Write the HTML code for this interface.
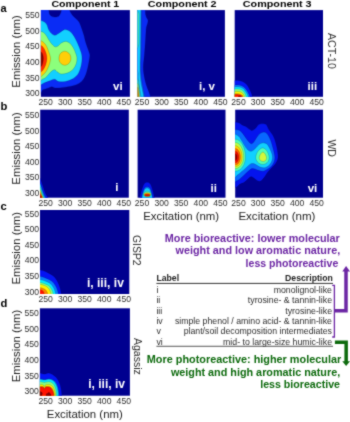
<!DOCTYPE html>
<html><head><meta charset="utf-8"><title>EEM components</title>
<style>html,body{margin:0;padding:0;background:#fff;}body{width:350px;height:422px;overflow:hidden;font-family:"Liberation Sans",sans-serif;}svg{display:block;}</style></head>
<body>
<svg width="350" height="422" viewBox="0 0 350 422" font-family="'Liberation Sans', sans-serif">
<defs><filter id="soft" x="0" y="0" width="350" height="422" filterUnits="userSpaceOnUse" color-interpolation-filters="sRGB"><feConvolveMatrix order="3" kernelMatrix="0.03 0.09 0.03 0.09 0.52 0.09 0.03 0.09 0.03" divisor="1" edgeMode="duplicate" preserveAlpha="true"/></filter></defs>
<g filter="url(#soft)">
<rect width="350" height="422" fill="#fff"/>
<clipPath id="p0"><rect x="40.9" y="10.1" width="89" height="86.7"/></clipPath>
<rect x="40.9" y="10.1" width="89" height="86.7" fill="#00008F"/>
<g clip-path="url(#p0)">
<path d="M37.5 5 C39.3 -9.2 46.4 4.12 48.3 5 C50.2 5.88 48.65 8.7 48.9 10.3 C49.15 11.9 49.2 13.55 49.8 14.6 C50.4 15.65 51.55 16.2 52.5 16.6 C53.45 17 54.48 17.07 55.5 17 C56.52 16.93 57.75 16.87 58.6 16.2 C59.45 15.53 60.15 13.98 60.6 13 C61.05 12.02 61.07 11.63 61.3 10.3 C61.53 8.97 60.88 5.88 62 5 C63.12 4.12 66.72 4.12 68 5 C69.28 5.88 68.98 8.65 69.7 10.3 C70.42 11.95 70.87 13.13 72.3 14.9 C73.73 16.67 76.93 19.2 78.3 20.9 C79.67 22.6 79.57 22.75 80.5 25.1 C81.43 27.45 83.02 32.1 83.9 35 C84.78 37.9 85.05 40 85.8 42.5 C86.55 45 87.72 47.92 88.4 50 C89.08 52.08 89.75 53.33 89.9 55 C90.05 56.67 89.53 58.42 89.3 60 C89.07 61.58 88.82 62.92 88.5 64.5 C88.18 66.08 87.83 67.83 87.4 69.5 C86.97 71.17 86.57 72.85 85.9 74.5 C85.23 76.15 84.53 77.92 83.4 79.4 C82.27 80.88 80.95 82.3 79.1 83.4 C77.25 84.5 74.87 85.33 72.3 86 C69.73 86.67 66.33 87.05 63.7 87.4 C61.07 87.75 58.2 88.1 56.5 88.1 C54.8 88.1 54.38 87.6 53.5 87.4 C52.62 87.2 52.28 86.72 51.2 86.9 C50.12 87.08 48.37 88.03 47 88.5 C45.63 88.97 44.58 89.42 43 89.7 C41.42 89.98 38.42 104.32 37.5 90.2 C36.58 76.08 35.7 19.2 37.5 5 Z" fill="#0A2CF5" stroke="#000" stroke-opacity="0.4" stroke-width="0.4"/>
<path d="M37.5 20.3 C38.1 9.57 39.87 20.27 41.1 20.6 C42.33 20.93 43.9 21.55 44.9 22.3 C45.9 23.05 46.52 23.97 47.1 25.1 C47.68 26.23 47.82 27.85 48.4 29.1 C48.98 30.35 49.57 31.57 50.6 32.6 C51.63 33.63 53.3 35.13 54.6 35.3 C55.9 35.47 56.88 34.5 58.4 33.6 C59.92 32.7 62.1 30.45 63.7 29.9 C65.3 29.35 66.57 29.67 68 30.3 C69.43 30.93 70.93 32.05 72.3 33.7 C73.67 35.35 75.05 37.98 76.2 40.2 C77.35 42.42 78.4 45.03 79.2 47 C80 48.97 80.55 50.5 81 52 C81.45 53.5 81.77 54.33 81.9 56 C82.03 57.67 82.05 59.92 81.8 62 C81.55 64.08 81.07 66.43 80.4 68.5 C79.73 70.57 79.15 72.63 77.8 74.4 C76.45 76.17 74.37 77.92 72.3 79.1 C70.23 80.28 67.68 81.1 65.4 81.5 C63.12 81.9 60.42 81.87 58.6 81.5 C56.78 81.13 55.93 79.42 54.5 79.3 C53.07 79.18 51.9 80.12 50 80.8 C48.1 81.48 44.58 82.75 43.1 83.4 C41.62 84.05 42.03 84.43 41.1 84.7 C40.17 84.97 38.1 95.73 37.5 85 C36.9 74.27 36.9 31.03 37.5 20.3 Z" fill="#12CFFF" stroke="#000" stroke-opacity="0.4" stroke-width="0.4"/>
<path d="M37.5 31.2 C38.1 23.17 40.07 31.17 41.1 31.4 C42.13 31.63 42.78 31.83 43.7 32.6 C44.62 33.37 45.73 34.77 46.6 36 C47.47 37.23 48 38.63 48.9 40 C49.8 41.37 50.95 43.07 52 44.2 C53.05 45.33 54.15 46.53 55.2 46.8 C56.25 47.07 57.32 46.42 58.3 45.8 C59.28 45.18 59.92 43.83 61.1 43.1 C62.28 42.37 63.97 41.4 65.4 41.4 C66.83 41.4 68.38 42.03 69.7 43.1 C71.02 44.17 72.32 46.15 73.3 47.8 C74.28 49.45 75 51.38 75.6 53 C76.2 54.62 76.78 55.75 76.9 57.5 C77.02 59.25 76.98 61.47 76.3 63.5 C75.62 65.53 74.33 68.1 72.8 69.7 C71.27 71.3 69.05 72.38 67.1 73.1 C65.15 73.82 62.7 74.18 61.1 74 C59.5 73.82 58.58 72.72 57.5 72 C56.42 71.28 55.6 69.82 54.6 69.7 C53.6 69.58 52.52 70.48 51.5 71.3 C50.48 72.12 49.47 73.55 48.5 74.6 C47.53 75.65 46.73 76.83 45.7 77.6 C44.67 78.37 43.67 78.87 42.3 79.2 C40.93 79.53 38.3 87.6 37.5 79.6 C36.7 71.6 36.9 39.23 37.5 31.2 Z" fill="#8CFF7C" stroke="#000" stroke-opacity="0.4" stroke-width="0.4"/>
<path d="M37.5 40.5 C38.1 34.63 40.05 40.45 41.1 40.8 C42.15 41.15 42.88 41.68 43.8 42.6 C44.72 43.52 45.77 44.73 46.6 46.3 C47.43 47.87 48.17 50.22 48.8 52 C49.43 53.78 50.15 55.5 50.4 57 C50.65 58.5 50.6 59.42 50.3 61 C50 62.58 49.32 64.73 48.6 66.5 C47.88 68.27 46.93 70.22 46 71.6 C45.07 72.98 44.42 74.07 43 74.8 C41.58 75.53 38.42 81.72 37.5 76 C36.58 70.28 36.9 46.37 37.5 40.5 Z" fill="#FFCE08" stroke="#000" stroke-opacity="0.4" stroke-width="0.4"/>
<path d="M64.8 51.2 C65.7 51.23 66.73 51.63 67.6 52.2 C68.47 52.77 69.45 53.58 70 54.6 C70.55 55.62 70.9 57.07 70.9 58.3 C70.9 59.53 70.58 60.95 70 62 C69.42 63.05 68.37 64.07 67.4 64.6 C66.43 65.13 65.23 65.33 64.2 65.2 C63.17 65.07 62.02 64.5 61.2 63.8 C60.38 63.1 59.67 62.03 59.3 61 C58.93 59.97 58.88 58.77 59 57.6 C59.12 56.43 59.47 54.93 60 54 C60.53 53.07 61.4 52.47 62.2 52 C63 51.53 63.9 51.17 64.8 51.2 Z" fill="#FFCE08" stroke="#000" stroke-opacity="0.4" stroke-width="0.4"/>
<path d="M37.5 45.2 C38.1 40.75 40.05 45 41.1 45.5 C42.15 46 42.98 46.95 43.8 48.2 C44.62 49.45 45.48 51.28 46 53 C46.52 54.72 46.93 56.58 46.9 58.5 C46.87 60.42 46.37 62.7 45.8 64.5 C45.23 66.3 44.28 68.08 43.5 69.3 C42.72 70.52 42.1 71.32 41.1 71.8 C40.1 72.28 38.1 76.63 37.5 72.2 C36.9 67.77 36.9 49.65 37.5 45.2 Z" fill="#FF2B00" stroke="#000" stroke-opacity="0.4" stroke-width="0.4"/>
<path d="M37.5 51.5 C38.1 48.98 40.23 51.4 41.1 51.9 C41.97 52.4 42.32 53.4 42.7 54.5 C43.08 55.6 43.4 57.08 43.4 58.5 C43.4 59.92 43.08 61.65 42.7 63 C42.32 64.35 41.97 65.93 41.1 66.6 C40.23 67.27 38.1 69.52 37.5 67 C36.9 64.48 36.9 54.02 37.5 51.5 Z" fill="#860000" stroke="#000" stroke-opacity="0.4" stroke-width="0.4"/>
</g>
<text x="122.6" y="89.6" text-anchor="end" font-size="11.5" font-weight="bold" fill="#fff">vi</text>
<clipPath id="p1"><rect x="137.6" y="10.1" width="87.3" height="86.7"/></clipPath>
<rect x="137.6" y="10.1" width="87.3" height="86.7" fill="#00008F"/>
<g clip-path="url(#p1)">
<path d="M134.4 5 C136.2 -10.83 143.37 4.12 145.2 5 C147.03 5.88 145.33 8.72 145.4 10.3 C145.47 11.88 145.4 13.3 145.6 14.5 C145.8 15.7 146.2 16.55 146.6 17.5 C147 18.45 147.83 19.2 148 20.2 C148.17 21.2 147.85 22.37 147.6 23.5 C147.35 24.63 146.77 25.58 146.5 27 C146.23 28.42 146.18 29.5 146 32 C145.82 34.5 145.67 38.17 145.4 42 C145.13 45.83 144.75 50.83 144.4 55 C144.05 59.17 143.33 63.5 143.3 67 C143.27 70.5 143.72 73.07 144.2 76 C144.68 78.93 145.47 82.1 146.2 84.6 C146.93 87.1 147.92 89.13 148.6 91 C149.28 92.87 149.9 94.3 150.3 95.8 C150.7 97.3 153.65 99.3 151 100 C148.35 100.7 137.17 115.83 134.4 100 C131.63 84.17 132.6 20.83 134.4 5 Z" fill="#0A2CF5" stroke="#000" stroke-opacity="0.4" stroke-width="0.4"/>
<path d="M134.4 5 C135.6 -10.83 140.4 3.83 141.6 5 C142.8 6.17 141.63 7.83 141.6 12 C141.57 16.17 141.47 23.67 141.4 30 C141.33 36.33 141.3 44 141.2 50 C141.1 56 140.8 61.67 140.8 66 C140.8 70.33 140.95 73 141.2 76 C141.45 79 141.9 81.5 142.3 84 C142.7 86.5 143.27 88.33 143.6 91 C143.93 93.67 145.83 98.5 144.3 100 C142.77 101.5 136.05 115.83 134.4 100 C132.75 84.17 133.2 20.83 134.4 5 Z" fill="#0868FF" stroke="#000" stroke-opacity="0.4" stroke-width="0.4"/>
<path d="M134.4 5 C135.45 -10.83 139.63 3.83 140.7 5 C141.77 6.17 140.8 7.83 140.8 12 C140.8 16.17 140.77 23.67 140.7 30 C140.63 36.33 140.52 44 140.4 50 C140.28 56 140.02 61.67 140 66 C139.98 70.33 140.1 73 140.3 76 C140.5 79 140.82 81.5 141.2 84 C141.58 86.5 142.25 88.33 142.6 91 C142.95 93.67 144.67 98.5 143.3 100 C141.93 101.5 135.88 115.83 134.4 100 C132.92 84.17 133.35 20.83 134.4 5 Z" fill="#12CFFF" stroke="#000" stroke-opacity="0.4" stroke-width="0.4"/>
<path d="M134.4 11 C135.1 5.08 137.83 11 138.6 12.5 C139.37 14 138.95 16.25 139 20 C139.05 23.75 139 30.67 138.9 35 C138.8 39.33 139.15 43.83 138.4 46 C137.65 48.17 135.07 53.83 134.4 48 C133.73 42.17 133.7 16.92 134.4 11 Z" fill="#46F0B8" stroke="#000" stroke-opacity="0.4" stroke-width="0.4"/>
<path d="M134.4 70 C135 65.33 137.35 70.67 138 72 C138.65 73.33 138.1 75.83 138.3 78 C138.5 80.17 138.85 82.67 139.2 85 C139.55 87.33 140.1 89.5 140.4 92 C140.7 94.5 142 98.67 141 100 C140 101.33 135.5 105 134.4 100 C133.3 95 133.8 74.67 134.4 70 Z" fill="#20B0FF" stroke="#000" stroke-opacity="0.4" stroke-width="0.4"/>
<path d="M134.4 79 C135 75.67 137.3 79 138 80 C138.7 81 138.35 83.17 138.6 85 C138.85 86.83 139.27 88.5 139.5 91 C139.73 93.5 140.85 98.5 140 100 C139.15 101.5 135.33 103.5 134.4 100 C133.47 96.5 133.8 82.33 134.4 79 Z" fill="#60F8A0" stroke="#000" stroke-opacity="0.4" stroke-width="0.4"/>
<path d="M134.4 83 C134.98 80.33 137.25 83.17 137.9 84 C138.55 84.83 138.13 86.5 138.3 88 C138.47 89.5 138.73 91 138.9 93 C139.07 95 140.05 98.83 139.3 100 C138.55 101.17 135.22 102.83 134.4 100 C133.58 97.17 133.82 85.67 134.4 83 Z" fill="#F0D820" stroke="#000" stroke-opacity="0.4" stroke-width="0.4"/>
<path d="M134.4 86.5 C134.97 84.42 137.18 86.75 137.8 87.5 C138.42 88.25 137.98 88.92 138.1 91 C138.22 93.08 139.12 98.5 138.5 100 C137.88 101.5 135.08 102.25 134.4 100 C133.72 97.75 133.83 88.58 134.4 86.5 Z" fill="#E85A10" stroke="#000" stroke-opacity="0.4" stroke-width="0.4"/>
</g>
<text x="215" y="89.8" text-anchor="end" font-size="11.5" font-weight="bold" fill="#fff">i, v</text>
<clipPath id="p2"><rect x="234.7" y="10.1" width="88.3" height="86.7"/></clipPath>
<rect x="234.7" y="10.1" width="88.3" height="86.7" fill="#00008F"/>
<g clip-path="url(#p2)">
<path d="M231.4 80.4 C231.9 80.4 233.13 80.38 234.4 80.4 C235.67 80.42 237.53 80.27 239 80.5 C240.47 80.73 241.92 81.13 243.2 81.8 C244.48 82.47 245.7 83.38 246.7 84.5 C247.7 85.62 248.42 87.03 249.2 88.5 C249.98 89.97 250.88 91.95 251.4 93.3 C251.92 94.65 252.14 95.55 252.3 96.6 C252.46 97.65 252.34 99.1 252.35 99.6 L231.4 99.6 Z" fill="#0414F4" stroke="#000" stroke-opacity="0.4" stroke-width="0.4"/>
<path d="M231.4 85 C231.9 85 233.13 84.98 234.4 85 C235.67 85.02 237.63 84.9 239 85.1 C240.37 85.3 241.53 85.65 242.6 86.2 C243.67 86.75 244.58 87.52 245.4 88.4 C246.22 89.28 246.9 90.48 247.5 91.5 C248.1 92.52 248.62 93.65 249 94.5 C249.38 95.35 249.66 95.75 249.8 96.6 C249.94 97.45 249.84 99.1 249.85 99.6 L231.4 99.6 Z" fill="#0880FF" stroke="#000" stroke-opacity="0.4" stroke-width="0.4"/>
<path d="M231.4 87 C231.9 87 233.13 86.98 234.4 87 C235.67 87.02 237.7 86.93 239 87.1 C240.3 87.27 241.27 87.53 242.2 88 C243.13 88.47 243.92 89.15 244.6 89.9 C245.28 90.65 245.8 91.65 246.3 92.5 C246.8 93.35 247.3 94.32 247.6 95 C247.9 95.68 248.01 95.83 248.1 96.6 C248.19 97.37 248.14 99.1 248.15 99.6 L231.4 99.6 Z" fill="#08ECFF" stroke="#000" stroke-opacity="0.4" stroke-width="0.4"/>
<path d="M231.4 88.9 C231.9 88.9 233.17 88.88 234.4 88.9 C235.63 88.92 237.6 88.87 238.8 89 C240 89.13 240.8 89.32 241.6 89.7 C242.4 90.08 243.03 90.67 243.6 91.3 C244.17 91.93 244.62 92.8 245 93.5 C245.38 94.2 245.7 94.98 245.9 95.5 C246.1 96.02 246.14 95.92 246.2 96.6 C246.26 97.28 246.24 99.1 246.25 99.6 L231.4 99.6 Z" fill="#84FF80" stroke="#000" stroke-opacity="0.4" stroke-width="0.4"/>
<path d="M231.4 91.4 C231.9 91.4 233.22 91.38 234.4 91.4 C235.58 91.42 237.4 91.38 238.5 91.5 C239.6 91.62 240.3 91.78 241 92.1 C241.7 92.42 242.23 92.92 242.7 93.4 C243.17 93.88 243.52 94.47 243.8 95 C244.08 95.53 244.29 95.83 244.4 96.6 C244.51 97.37 244.44 99.1 244.45 99.6 L231.4 99.6 Z" fill="#FFF200" stroke="#000" stroke-opacity="0.4" stroke-width="0.4"/>
<path d="M231.4 93.7 C231.9 93.7 233.25 93.68 234.4 93.7 C235.55 93.72 237.27 93.7 238.3 93.8 C239.33 93.9 239.95 94.05 240.6 94.3 C241.25 94.55 241.77 94.92 242.2 95.3 C242.63 95.68 243.02 95.88 243.2 96.6 C243.38 97.32 243.24 99.1 243.25 99.6 L231.4 99.6 Z" fill="#FF8400" stroke="#000" stroke-opacity="0.4" stroke-width="0.4"/>
<path d="M231.4 94.6 C231.9 94.6 233.27 94.58 234.4 94.6 C235.53 94.62 237.22 94.62 238.2 94.7 C239.18 94.78 239.72 94.9 240.3 95.1 C240.88 95.3 241.35 95.65 241.7 95.9 C242.05 96.15 242.28 95.98 242.4 96.6 C242.53 97.22 242.44 99.1 242.45 99.6 L231.4 99.6 Z" fill="#FF1200" stroke="#000" stroke-opacity="0.4" stroke-width="0.4"/>
<path d="M241.5 96.8 C241.5 96.91 241.45 97.04 241.37 97.14 C241.29 97.25 241.16 97.36 241 97.44 C240.85 97.52 240.65 97.59 240.45 97.63 C240.25 97.68 240.02 97.7 239.8 97.7 C239.58 97.7 239.35 97.68 239.15 97.63 C238.95 97.59 238.75 97.52 238.6 97.44 C238.44 97.36 238.31 97.25 238.23 97.14 C238.15 97.04 238.1 96.91 238.1 96.8 C238.1 96.69 238.15 96.56 238.23 96.46 C238.31 96.35 238.44 96.24 238.6 96.16 C238.75 96.08 238.95 96.01 239.15 95.97 C239.35 95.92 239.58 95.9 239.8 95.9 C240.02 95.9 240.25 95.92 240.45 95.97 C240.65 96.01 240.85 96.08 241 96.16 C241.16 96.24 241.29 96.35 241.37 96.46 C241.45 96.56 241.5 96.69 241.5 96.8 Z" fill="#860000" stroke="#000" stroke-opacity="0.4" stroke-width="0.4"/>
</g>
<text x="317.2" y="89.8" text-anchor="end" font-size="11.5" font-weight="bold" fill="#fff">iii</text>
<clipPath id="p3"><rect x="40.2" y="109.7" width="88.6" height="88"/></clipPath>
<rect x="40.2" y="109.7" width="88.6" height="88" fill="#00008F"/>
<g clip-path="url(#p3)">
<path d="M37.5 176 C37.98 176.4 39.68 177.32 40.4 178.4 C41.12 179.48 41.32 181.05 41.8 182.5 C42.28 183.95 42.83 185.68 43.3 187.1 C43.77 188.52 44.17 189.85 44.6 191 C45.03 192.15 45.47 193.12 45.9 194 C46.33 194.88 46.85 195.7 47.2 196.3 C47.55 196.9 47.77 196.95 48 197.6 C48.23 198.25 48.5 199.77 48.6 200.2 L37.5 200.2 Z" fill="#0414EE" stroke="#000" stroke-opacity="0.4" stroke-width="0.4"/>
<path d="M37.5 181 C37.98 181.37 39.73 182.28 40.4 183.2 C41.07 184.12 41.13 185.37 41.5 186.5 C41.87 187.63 42.22 188.88 42.6 190 C42.98 191.12 43.4 192.2 43.8 193.2 C44.2 194.2 44.65 195.27 45 196 C45.35 196.73 45.67 196.9 45.9 197.6 C46.13 198.3 46.32 199.77 46.4 200.2 L37.5 200.2 Z" fill="#0868FF" stroke="#000" stroke-opacity="0.4" stroke-width="0.4"/>
<path d="M37.5 182.5 C37.98 182.85 39.78 183.77 40.4 184.6 C41.02 185.43 40.92 186.47 41.2 187.5 C41.48 188.53 41.78 189.75 42.1 190.8 C42.42 191.85 42.75 192.87 43.1 193.8 C43.45 194.73 43.9 195.77 44.2 196.4 C44.5 197.03 44.72 196.97 44.9 197.6 C45.08 198.23 45.23 199.77 45.3 200.2 L37.5 200.2 Z" fill="#10D0FF" stroke="#000" stroke-opacity="0.4" stroke-width="0.4"/>
<path d="M37.5 185.5 C37.98 185.83 39.82 186.75 40.4 187.5 C40.98 188.25 40.78 189.15 41 190 C41.22 190.85 41.43 191.77 41.7 192.6 C41.97 193.43 42.28 194.27 42.6 195 C42.92 195.73 43.37 196.13 43.6 197 C43.83 197.87 43.93 199.67 44 200.2 L37.5 200.2 Z" fill="#50FFB4" stroke="#000" stroke-opacity="0.4" stroke-width="0.4"/>
<path d="M37.5 188.5 C37.98 188.8 39.83 189.68 40.4 190.3 C40.97 190.92 40.72 191.55 40.9 192.2 C41.08 192.85 41.25 193.53 41.5 194.2 C41.75 194.87 42.12 195.63 42.4 196.2 C42.68 196.77 43.03 196.93 43.2 197.6 C43.37 198.27 43.37 199.77 43.4 200.2 L37.5 200.2 Z" fill="#FFD400" stroke="#000" stroke-opacity="0.4" stroke-width="0.4"/>
<path d="M37.5 191 C37.98 191.27 39.82 192.02 40.4 192.6 C40.98 193.18 40.75 193.87 41 194.5 C41.25 195.13 41.63 195.88 41.9 196.4 C42.17 196.92 42.45 196.97 42.6 197.6 C42.75 198.23 42.77 199.77 42.8 200.2 L37.5 200.2 Z" fill="#FF6300" stroke="#000" stroke-opacity="0.4" stroke-width="0.4"/>
<path d="M37.5 192.8 C37.98 193.05 39.82 193.83 40.4 194.3 C40.98 194.77 40.78 195.15 41 195.6 C41.22 196.05 41.5 196.23 41.7 197 C41.9 197.77 42.12 199.67 42.2 200.2 L37.5 200.2 Z" fill="#F00800" stroke="#000" stroke-opacity="0.4" stroke-width="0.4"/>
<path d="M37.5 195 C37.98 195.15 39.82 195.6 40.4 195.9 C40.98 196.2 40.83 196.08 41 196.8 C41.17 197.52 41.33 199.63 41.4 200.2 L37.5 200.2 Z" fill="#860000" stroke="#000" stroke-opacity="0.4" stroke-width="0.4"/>
</g>
<text x="118.4" y="191.3" text-anchor="end" font-size="11.5" font-weight="bold" fill="#fff">i</text>
<clipPath id="p4"><rect x="137.6" y="109.7" width="87.9" height="88"/></clipPath>
<rect x="137.6" y="109.7" width="87.9" height="88" fill="#00008F"/>
<g clip-path="url(#p4)">
<path d="M139.5 200.2 C139.56 199.7 139.63 198.4 139.83 197.2 C140.03 196 140.33 194.45 140.71 193 C141.09 191.55 141.64 189.9 142.14 188.5 C142.63 187.1 143.17 185.57 143.68 184.6 C144.19 183.63 144.63 183.1 145.22 182.7 C145.81 182.3 146.54 182.2 147.2 182.2 C147.86 182.2 148.59 182.3 149.18 182.7 C149.77 183.1 150.21 183.63 150.72 184.6 C151.23 185.57 151.8 187.1 152.26 188.5 C152.72 189.9 153.12 191.55 153.47 193 C153.82 194.45 154.17 196 154.35 197.2 C154.53 198.4 154.53 199.7 154.57 200.2 Z" fill="#0414EE" stroke="#000" stroke-opacity="0.4" stroke-width="0.4"/>
<path d="M141.37 200.2 C141.41 199.7 141.43 198.32 141.59 197.2 C141.75 196.08 142.01 194.78 142.36 193.5 C142.71 192.22 143.2 190.55 143.68 189.5 C144.16 188.45 144.63 187.7 145.22 187.2 C145.81 186.7 146.54 186.5 147.2 186.5 C147.86 186.5 148.59 186.7 149.18 187.2 C149.77 187.7 150.26 188.45 150.72 189.5 C151.18 190.55 151.6 192.22 151.93 193.5 C152.26 194.78 152.53 196.08 152.7 197.2 C152.86 198.32 152.88 199.7 152.92 200.2 Z" fill="#0868FF" stroke="#000" stroke-opacity="0.4" stroke-width="0.4"/>
<path d="M141.92 200.2 C141.96 199.7 141.97 198.23 142.14 197.2 C142.3 196.17 142.58 195.12 142.91 194 C143.24 192.88 143.7 191.42 144.12 190.5 C144.54 189.58 144.93 188.93 145.44 188.5 C145.95 188.07 146.61 187.9 147.2 187.9 C147.79 187.9 148.45 188.07 148.96 188.5 C149.47 188.93 149.86 189.58 150.28 190.5 C150.7 191.42 151.16 192.88 151.49 194 C151.82 195.12 152.11 196.17 152.26 197.2 C152.41 198.23 152.35 199.7 152.37 200.2 Z" fill="#10D0FF" stroke="#000" stroke-opacity="0.4" stroke-width="0.4"/>
<path d="M151.1 194.2 C151.1 194.57 151 194.97 150.81 195.31 C150.63 195.65 150.33 195.99 149.99 196.25 C149.64 196.51 149.2 196.74 148.75 196.88 C148.31 197.02 147.78 197.1 147.3 197.1 C146.82 197.1 146.29 197.02 145.85 196.88 C145.4 196.74 144.96 196.51 144.61 196.25 C144.27 195.99 143.97 195.65 143.79 195.31 C143.6 194.97 143.5 194.57 143.5 194.2 C143.5 193.83 143.6 193.43 143.79 193.09 C143.97 192.75 144.27 192.41 144.61 192.15 C144.96 191.89 145.4 191.66 145.85 191.52 C146.29 191.38 146.82 191.3 147.3 191.3 C147.78 191.3 148.31 191.38 148.75 191.52 C149.2 191.66 149.64 191.89 149.99 192.15 C150.33 192.41 150.63 192.75 150.81 193.09 C151 193.43 151.1 193.83 151.1 194.2 Z" fill="#50FFB4" stroke="#000" stroke-opacity="0.4" stroke-width="0.4"/>
<path d="M150.6 194.6 C150.6 194.84 150.51 195.1 150.35 195.33 C150.19 195.55 149.93 195.77 149.63 195.94 C149.34 196.11 148.95 196.26 148.56 196.36 C148.17 196.45 147.72 196.5 147.3 196.5 C146.88 196.5 146.43 196.45 146.04 196.36 C145.65 196.26 145.26 196.11 144.97 195.94 C144.67 195.77 144.41 195.55 144.25 195.33 C144.09 195.1 144 194.84 144 194.6 C144 194.36 144.09 194.1 144.25 193.87 C144.41 193.65 144.67 193.43 144.97 193.26 C145.26 193.09 145.65 192.94 146.04 192.84 C146.43 192.75 146.88 192.7 147.3 192.7 C147.72 192.7 148.17 192.75 148.56 192.84 C148.95 192.94 149.34 193.09 149.63 193.26 C149.93 193.43 150.19 193.65 150.35 193.87 C150.51 194.1 150.6 194.36 150.6 194.6 Z" fill="#FFD400" stroke="#000" stroke-opacity="0.4" stroke-width="0.4"/>
<path d="M150.2 195 C150.2 195.16 150.12 195.33 149.98 195.48 C149.84 195.63 149.61 195.77 149.35 195.88 C149.09 196 148.75 196.09 148.41 196.15 C148.07 196.22 147.67 196.25 147.3 196.25 C146.93 196.25 146.53 196.22 146.19 196.15 C145.85 196.09 145.51 196 145.25 195.88 C144.99 195.77 144.76 195.63 144.62 195.48 C144.48 195.33 144.4 195.16 144.4 195 C144.4 194.84 144.48 194.67 144.62 194.52 C144.76 194.37 144.99 194.23 145.25 194.12 C145.51 194 145.85 193.91 146.19 193.85 C146.53 193.78 146.93 193.75 147.3 193.75 C147.67 193.75 148.07 193.78 148.41 193.85 C148.75 193.91 149.09 194 149.35 194.12 C149.61 194.23 149.84 194.37 149.98 194.52 C150.12 194.67 150.2 194.84 150.2 195 Z" fill="#FF6300" stroke="#000" stroke-opacity="0.4" stroke-width="0.4"/>
<path d="M149.8 195.2 C149.8 195.3 149.73 195.41 149.61 195.51 C149.49 195.6 149.29 195.69 149.07 195.77 C148.84 195.84 148.55 195.9 148.26 195.94 C147.96 195.98 147.62 196 147.3 196 C146.98 196 146.64 195.98 146.34 195.94 C146.05 195.9 145.76 195.84 145.53 195.77 C145.31 195.69 145.11 195.6 144.99 195.51 C144.87 195.41 144.8 195.3 144.8 195.2 C144.8 195.1 144.87 194.99 144.99 194.89 C145.11 194.8 145.31 194.71 145.53 194.63 C145.76 194.56 146.05 194.5 146.34 194.46 C146.64 194.42 146.98 194.4 147.3 194.4 C147.62 194.4 147.96 194.42 148.26 194.46 C148.55 194.5 148.84 194.56 149.07 194.63 C149.29 194.71 149.49 194.8 149.61 194.89 C149.73 194.99 149.8 195.1 149.8 195.2 Z" fill="#F00800" stroke="#000" stroke-opacity="0.4" stroke-width="0.4"/>
</g>
<text x="217" y="191.9" text-anchor="end" font-size="11.5" font-weight="bold" fill="#fff">ii</text>
<clipPath id="p5"><rect x="235.2" y="109.7" width="87.8" height="88"/></clipPath>
<rect x="235.2" y="109.7" width="87.8" height="88" fill="#00008F"/>
<g clip-path="url(#p5)">
<path d="M231.6 121.5 C232.17 110.55 233.78 121.7 235 121.9 C236.22 122.1 237.68 122.18 238.9 122.7 C240.12 123.22 241.2 124.4 242.3 125 C243.4 125.6 244.47 125.7 245.5 126.3 C246.53 126.9 247.5 127.92 248.5 128.6 C249.5 129.28 250.58 130.23 251.5 130.4 C252.42 130.57 253.15 130.17 254 129.6 C254.85 129.03 255.83 127.83 256.6 127 C257.37 126.17 257.63 125.17 258.6 124.6 C259.57 124.03 261.12 123.6 262.4 123.6 C263.68 123.6 265.22 123.6 266.3 124.6 C267.38 125.6 267.77 127.77 268.9 129.6 C270.03 131.43 271.97 133.47 273.1 135.6 C274.23 137.73 275 140.12 275.7 142.4 C276.4 144.68 276.9 146.87 277.3 149.3 C277.7 151.73 278.18 154.97 278.1 157 C278.02 159.03 277.43 160.13 276.8 161.5 C276.17 162.87 275.33 163.97 274.3 165.2 C273.27 166.43 271.82 167.57 270.6 168.9 C269.38 170.23 268.07 171.75 267 173.2 C265.93 174.65 265.32 176.25 264.2 177.6 C263.08 178.95 261.58 180.87 260.3 181.3 C259.02 181.73 257.65 180.78 256.5 180.2 C255.35 179.62 254.38 178.37 253.4 177.8 C252.42 177.23 251.6 176.5 250.6 176.8 C249.6 177.1 248.5 178.63 247.4 179.6 C246.3 180.57 245.28 181.82 244 182.6 C242.72 183.38 240.85 183.58 239.7 184.3 C238.55 185.02 237.88 186.38 237.1 186.9 C236.32 187.42 235.92 187.28 235 187.4 C234.08 187.52 232.17 198.58 231.6 187.6 C231.03 176.62 231.03 132.45 231.6 121.5 Z" fill="#0414EE" stroke="#000" stroke-opacity="0.4" stroke-width="0.4"/>
<path d="M231.6 129.3 C232.18 120.68 233.75 129.42 235.1 129.6 C236.45 129.78 238.37 129.68 239.7 130.4 C241.03 131.12 241.95 132.47 243.1 133.9 C244.25 135.33 245.45 137.48 246.6 139 C247.75 140.52 249.07 142.25 250 143 C250.93 143.75 251.45 143.83 252.2 143.5 C252.95 143.17 253.7 142.08 254.5 141 C255.3 139.92 256.08 138.23 257 137 C257.92 135.77 258.83 134.42 260 133.6 C261.17 132.78 262.75 132 264 132.1 C265.25 132.2 266.37 132.77 267.5 134.2 C268.63 135.63 269.83 138.18 270.8 140.7 C271.77 143.22 272.62 146.52 273.3 149.3 C273.98 152.08 274.85 155.12 274.9 157.4 C274.95 159.68 274.25 161.43 273.6 163 C272.95 164.57 272.08 165.73 271 166.8 C269.92 167.87 268.38 168.67 267.1 169.4 C265.82 170.13 264.65 171 263.3 171.2 C261.95 171.4 260.3 170.93 259 170.6 C257.7 170.27 256.67 169.53 255.5 169.2 C254.33 168.87 253.17 168.3 252 168.6 C250.83 168.9 249.67 170.05 248.5 171 C247.33 171.95 246.17 173.22 245 174.3 C243.83 175.38 242.58 176.55 241.5 177.5 C240.42 178.45 239.37 179.43 238.5 180 C237.63 180.57 237.45 180.68 236.3 180.9 C235.15 181.12 232.38 189.9 231.6 181.3 C230.82 172.7 231.02 137.92 231.6 129.3 Z" fill="#0868FF" stroke="#000" stroke-opacity="0.4" stroke-width="0.4"/>
<path d="M231.6 134 C232.18 127.07 233.88 133.8 235.1 134.2 C236.32 134.6 237.7 135.17 238.9 136.4 C240.1 137.63 241.17 139.8 242.3 141.6 C243.43 143.4 244.57 145.67 245.7 147.2 C246.83 148.73 248.07 150.17 249.1 150.8 C250.13 151.43 251 151.25 251.9 151 C252.8 150.75 253.57 150.13 254.5 149.3 C255.43 148.47 256.5 146.95 257.5 146 C258.5 145.05 259.4 144.12 260.5 143.6 C261.6 143.08 262.97 142.77 264.1 142.9 C265.23 143.03 266.3 143.33 267.3 144.4 C268.3 145.47 269.32 147.7 270.1 149.3 C270.88 150.9 271.62 152.48 272 154 C272.38 155.52 272.58 156.9 272.4 158.4 C272.22 159.9 271.63 161.7 270.9 163 C270.17 164.3 269.13 165.4 268 166.2 C266.87 167 265.43 167.67 264.1 167.8 C262.77 167.93 261.27 167.47 260 167 C258.73 166.53 257.58 165.57 256.5 165 C255.42 164.43 254.48 163.78 253.5 163.6 C252.52 163.42 251.55 163.47 250.6 163.9 C249.65 164.33 248.75 165.37 247.8 166.2 C246.85 167.03 245.97 167.97 244.9 168.9 C243.83 169.83 242.55 170.85 241.4 171.8 C240.25 172.75 239.63 173.93 238 174.6 C236.37 175.27 232.67 182.57 231.6 175.8 C230.53 169.03 231.02 140.93 231.6 134 Z" fill="#10D0FF" stroke="#000" stroke-opacity="0.4" stroke-width="0.4"/>
<path d="M262.6 147.9 C263.67 147.88 264.87 148.67 265.8 149.6 C266.73 150.53 267.65 152.18 268.2 153.5 C268.75 154.82 269.1 156.2 269.1 157.5 C269.1 158.8 268.8 160.25 268.2 161.3 C267.6 162.35 266.5 163.28 265.5 163.8 C264.5 164.32 263.32 164.5 262.2 164.4 C261.08 164.3 259.77 163.88 258.8 163.2 C257.83 162.52 256.9 161.33 256.4 160.3 C255.9 159.27 255.73 158.18 255.8 157 C255.87 155.82 256.2 154.42 256.8 153.2 C257.4 151.98 258.43 150.58 259.4 149.7 C260.37 148.82 261.53 147.92 262.6 147.9 Z" fill="#50FFB4" stroke="#000" stroke-opacity="0.4" stroke-width="0.4"/>
<path d="M263 151.9 C263.58 152 264.37 152.88 264.9 153.6 C265.43 154.32 265.93 155.4 266.2 156.2 C266.47 157 266.6 157.7 266.5 158.4 C266.4 159.1 266.08 159.9 265.6 160.4 C265.12 160.9 264.3 161.3 263.6 161.4 C262.9 161.5 262.07 161.33 261.4 161 C260.73 160.67 259.97 160.03 259.6 159.4 C259.23 158.77 259.13 157.95 259.2 157.2 C259.27 156.45 259.63 155.6 260 154.9 C260.37 154.2 260.9 153.5 261.4 153 C261.9 152.5 262.42 151.8 263 151.9 Z" fill="#D2F83C" stroke="#000" stroke-opacity="0.4" stroke-width="0.4"/>
<path d="M231.6 139.2 C232.18 133.87 234.07 139.1 235.1 139.2 C236.13 139.3 236.93 139.41 237.79 139.81 C238.66 140.21 239.52 140.83 240.3 141.6 C241.08 142.37 241.82 143.35 242.45 144.44 C243.09 145.53 243.66 146.81 244.11 148.15 C244.56 149.49 244.91 150.98 245.15 152.47 C245.38 153.96 245.5 155.72 245.5 157.1 C245.5 158.48 245.38 159.57 245.15 160.75 C244.91 161.92 244.56 163.1 244.11 164.15 C243.66 165.2 243.09 166.21 242.45 167.07 C241.82 167.93 241.08 168.7 240.3 169.31 C239.52 169.92 238.66 170.4 237.79 170.72 C236.93 171.03 236.13 171.12 235.1 171.2 C234.07 171.28 232.18 176.53 231.6 171.2 C231.02 165.87 231.02 144.53 231.6 139.2 Z" fill="#50FFB4" stroke="#000" stroke-opacity="0.4" stroke-width="0.4"/>
<path d="M231.6 142.5 C232.18 138.15 234.15 142.42 235.1 142.5 C236.05 142.58 236.61 142.67 237.33 143 C238.04 143.32 238.76 143.83 239.4 144.46 C240.04 145.09 240.66 145.89 241.18 146.78 C241.71 147.67 242.18 148.71 242.55 149.8 C242.92 150.89 243.21 152.1 243.41 153.32 C243.6 154.54 243.7 155.97 243.7 157.1 C243.7 158.23 243.6 159.12 243.41 160.08 C243.21 161.03 242.92 161.99 242.55 162.85 C242.18 163.71 241.71 164.53 241.18 165.23 C240.66 165.93 240.04 166.56 239.4 167.06 C238.76 167.56 238.04 167.95 237.33 168.21 C236.61 168.46 236.05 168.53 235.1 168.6 C234.15 168.67 232.18 172.95 231.6 168.6 C231.02 164.25 231.02 146.85 231.6 142.5 Z" fill="#BCFF48" stroke="#000" stroke-opacity="0.4" stroke-width="0.4"/>
<path d="M231.6 145.6 C232.18 142.08 234.21 145.53 235.1 145.6 C235.99 145.67 236.33 145.74 236.91 145.99 C237.5 146.25 238.08 146.64 238.6 147.14 C239.12 147.64 239.62 148.27 240.05 148.97 C240.48 149.67 240.86 150.49 241.16 151.35 C241.46 152.21 241.71 153.17 241.86 154.12 C242.02 155.08 242.1 156.19 242.1 157.1 C242.1 158.01 242.02 158.78 241.86 159.58 C241.71 160.38 241.46 161.18 241.16 161.9 C240.86 162.62 240.48 163.3 240.05 163.89 C239.62 164.47 239.12 165 238.6 165.41 C238.08 165.83 237.5 166.16 236.91 166.37 C236.33 166.59 235.99 166.65 235.1 166.7 C234.21 166.75 232.18 170.22 231.6 166.7 C231.02 163.18 231.02 149.12 231.6 145.6 Z" fill="#FFD400" stroke="#000" stroke-opacity="0.4" stroke-width="0.4"/>
<path d="M231.6 148.5 C232.18 145.73 234.29 148.45 235.1 148.5 C235.91 148.55 236.03 148.6 236.47 148.79 C236.91 148.99 237.35 149.28 237.75 149.65 C238.15 150.02 238.52 150.49 238.85 151.02 C239.17 151.54 239.46 152.16 239.69 152.8 C239.92 153.44 240.1 154.16 240.22 154.87 C240.34 155.59 240.4 156.38 240.4 157.1 C240.4 157.82 240.34 158.5 240.22 159.17 C240.1 159.84 239.92 160.5 239.69 161.1 C239.46 161.7 239.17 162.27 238.85 162.76 C238.52 163.24 238.15 163.68 237.75 164.03 C237.35 164.37 236.91 164.65 236.47 164.83 C236.03 165.01 235.91 165.05 235.1 165.1 C234.29 165.15 232.18 167.87 231.6 165.1 C231.02 162.33 231.02 151.27 231.6 148.5 Z" fill="#FF6300" stroke="#000" stroke-opacity="0.4" stroke-width="0.4"/>
<path d="M231.6 151.2 C232.18 149.25 234.36 151.17 235.1 151.2 C235.84 151.23 235.73 151.27 236.03 151.4 C236.33 151.53 236.63 151.74 236.9 151.99 C237.17 152.24 237.43 152.57 237.65 152.93 C237.87 153.29 238.06 153.71 238.22 154.15 C238.37 154.59 238.5 155.08 238.58 155.57 C238.66 156.06 238.7 156.6 238.7 157.1 C238.7 157.6 238.66 158.12 238.58 158.6 C238.5 159.08 238.37 159.57 238.22 160 C238.06 160.43 237.87 160.85 237.65 161.2 C237.43 161.56 237.17 161.87 236.9 162.12 C236.63 162.37 236.33 162.57 236.03 162.7 C235.73 162.83 235.84 162.87 235.1 162.9 C234.36 162.93 232.18 164.85 231.6 162.9 C231.02 160.95 231.02 153.15 231.6 151.2 Z" fill="#F00800" stroke="#000" stroke-opacity="0.4" stroke-width="0.4"/>
<path d="M231.6 153.8 C232.18 152.7 234.43 153.78 235.1 153.8 C235.77 153.82 235.43 153.84 235.59 153.91 C235.75 153.99 235.91 154.1 236.05 154.24 C236.19 154.38 236.33 154.57 236.44 154.77 C236.56 154.97 236.66 155.2 236.75 155.45 C236.83 155.7 236.89 155.97 236.94 156.25 C236.98 156.52 237 156.82 237 157.1 C237 157.38 236.98 157.68 236.94 157.95 C236.89 158.23 236.83 158.5 236.75 158.75 C236.66 159 236.56 159.23 236.44 159.43 C236.33 159.63 236.19 159.82 236.05 159.96 C235.91 160.1 235.75 160.21 235.59 160.29 C235.43 160.36 235.77 160.38 235.1 160.4 C234.43 160.42 232.18 161.5 231.6 160.4 C231.02 159.3 231.02 154.9 231.6 153.8 Z" fill="#860000" stroke="#000" stroke-opacity="0.4" stroke-width="0.4"/>
</g>
<text x="317.3" y="191.6" text-anchor="end" font-size="11.5" font-weight="bold" fill="#fff">vi</text>
<clipPath id="p6"><rect x="40" y="210" width="89.3" height="84"/></clipPath>
<rect x="40" y="210" width="89.3" height="84" fill="#00008F"/>
<g clip-path="url(#p6)">
<path d="M37 270 C37.5 270 38.98 269.9 40 270 C41.02 270.1 41.72 270.12 43.1 270.6 C44.48 271.08 46.58 272.02 48.3 272.9 C50.02 273.78 52.03 274.77 53.4 275.9 C54.77 277.03 55.62 278.35 56.5 279.7 C57.38 281.05 58.05 282.45 58.7 284 C59.35 285.55 59.97 287.33 60.4 289 C60.83 290.67 61.13 292.67 61.3 294 C61.47 295.33 61.38 296.5 61.4 297 L37 297 Z" fill="#0414F4" stroke="#000" stroke-opacity="0.4" stroke-width="0.4"/>
<path d="M37 276.6 C37.5 276.6 39.06 276.53 40 276.6 C40.94 276.67 41.47 276.68 42.66 277.04 C43.85 277.39 45.66 278.06 47.13 278.7 C48.61 279.34 50.34 280.06 51.51 280.88 C52.69 281.7 53.42 282.65 54.18 283.63 C54.93 284.61 55.51 285.63 56.07 286.75 C56.62 287.87 57.15 289.17 57.53 290.38 C57.9 291.58 58.15 292.9 58.3 294 C58.45 295.1 58.38 296.5 58.4 297 L37 297 Z" fill="#0880FF" stroke="#000" stroke-opacity="0.4" stroke-width="0.4"/>
<path d="M37 279.7 C37.5 279.7 39.12 279.64 40 279.7 C40.88 279.76 41.26 279.77 42.27 280.06 C43.28 280.35 44.82 280.9 46.08 281.43 C47.34 281.95 48.81 282.54 49.81 283.22 C50.82 283.89 51.44 284.68 52.08 285.48 C52.73 286.28 53.22 287.12 53.7 288.04 C54.17 288.97 54.62 290.03 54.94 291.02 C55.26 292.01 55.47 293 55.6 294 C55.73 295 55.68 296.5 55.7 297 L37 297 Z" fill="#08ECFF" stroke="#000" stroke-opacity="0.4" stroke-width="0.4"/>
<path d="M37 282.5 C37.5 282.5 39.18 282.45 40 282.5 C40.82 282.55 41.06 282.56 41.92 282.79 C42.78 283.02 44.08 283.47 45.14 283.89 C46.21 284.31 47.46 284.78 48.3 285.33 C49.15 285.87 49.68 286.5 50.23 287.15 C50.77 287.79 51.19 288.47 51.59 289.21 C51.99 289.95 52.37 290.81 52.64 291.6 C52.91 292.4 53.09 293.1 53.2 294 C53.31 294.9 53.28 296.5 53.3 297 L37 297 Z" fill="#84FF80" stroke="#000" stroke-opacity="0.4" stroke-width="0.4"/>
<path d="M37 284.3 C37.5 284.3 39.24 284.26 40 284.3 C40.76 284.34 40.88 284.35 41.59 284.54 C42.29 284.74 43.37 285.12 44.25 285.47 C45.13 285.83 46.16 286.23 46.86 286.68 C47.56 287.14 47.99 287.67 48.44 288.22 C48.9 288.77 49.24 289.33 49.57 289.96 C49.9 290.58 50.22 291.31 50.44 291.98 C50.66 292.65 50.81 293.16 50.9 294 C50.99 294.84 50.98 296.5 51 297 L37 297 Z" fill="#FFF200" stroke="#000" stroke-opacity="0.4" stroke-width="0.4"/>
<path d="M37 287.7 C37.5 287.7 39.31 287.67 40 287.7 C40.69 287.73 40.62 287.73 41.12 287.86 C41.62 287.98 42.38 288.23 43 288.46 C43.62 288.69 44.35 288.95 44.84 289.25 C45.34 289.55 45.65 289.89 45.96 290.25 C46.28 290.6 46.53 290.97 46.76 291.38 C47 291.78 47.22 292.25 47.37 292.69 C47.53 293.12 47.63 293.28 47.7 294 C47.77 294.72 47.78 296.5 47.8 297 L37 297 Z" fill="#FF8400" stroke="#000" stroke-opacity="0.4" stroke-width="0.4"/>
<path d="M37 289.7 C37.5 289.7 39.4 289.68 40 289.7 C40.6 289.72 40.35 289.72 40.63 289.81 C40.91 289.89 41.33 290.06 41.68 290.22 C42.02 290.38 42.43 290.55 42.71 290.76 C42.98 290.96 43.15 291.2 43.33 291.44 C43.51 291.68 43.64 291.93 43.78 292.21 C43.91 292.49 44.03 292.81 44.12 293.1 C44.21 293.4 44.25 293.35 44.3 294 C44.35 294.65 44.38 296.5 44.4 297 L37 297 Z" fill="#FF1200" stroke="#000" stroke-opacity="0.4" stroke-width="0.4"/>
</g>
<text x="123.9" y="287.2" text-anchor="end" font-size="12.1" font-weight="bold" fill="#fff">i, iii, iv</text>
<clipPath id="p7"><rect x="39.9" y="308.3" width="90" height="87.4"/></clipPath>
<rect x="39.9" y="308.3" width="90" height="87.4" fill="#00008F"/>
<g clip-path="url(#p7)">
<path d="M36.9 372.9 C37.4 372.9 38.65 372.72 39.9 372.9 C41.15 373.08 42.95 374 44.4 374 C45.85 374 47.23 372.83 48.6 372.9 C49.97 372.97 51.3 373.62 52.6 374.4 C53.9 375.18 55.28 376.23 56.4 377.6 C57.52 378.97 58.52 380.78 59.3 382.6 C60.08 384.42 60.67 386.32 61.1 388.5 C61.53 390.68 61.76 394 61.9 395.7 C62.04 397.4 61.94 398.2 61.95 398.7 L36.9 398.7 Z" fill="#0414F4" stroke="#000" stroke-opacity="0.4" stroke-width="0.4"/>
<path d="M36.9 378.7 C37.4 378.7 38.65 378.57 39.9 378.7 C41.15 378.83 42.95 379.5 44.4 379.5 C45.85 379.5 47.3 378.72 48.6 378.7 C49.9 378.68 51.1 378.92 52.2 379.4 C53.3 379.88 54.33 380.58 55.2 381.6 C56.07 382.62 56.82 384.02 57.4 385.5 C57.98 386.98 58.4 388.8 58.7 390.5 C59 392.2 59.11 394.33 59.2 395.7 C59.29 397.07 59.24 398.2 59.25 398.7 L36.9 398.7 Z" fill="#0880FF" stroke="#000" stroke-opacity="0.4" stroke-width="0.4"/>
<path d="M36.9 379.3 C37.4 379.3 38.65 379.17 39.9 379.3 C41.15 379.43 42.95 380.1 44.4 380.1 C45.85 380.1 47.33 379.32 48.6 379.3 C49.87 379.28 50.98 379.52 52 380 C53.02 380.48 53.92 381.2 54.7 382.2 C55.48 383.2 56.17 384.57 56.7 386 C57.23 387.43 57.62 389.18 57.9 390.8 C58.18 392.42 58.31 394.38 58.4 395.7 C58.49 397.02 58.44 398.2 58.45 398.7 L36.9 398.7 Z" fill="#08ECFF" stroke="#000" stroke-opacity="0.4" stroke-width="0.4"/>
<path d="M36.9 381.6 C37.4 381.6 38.65 381.47 39.9 381.6 C41.15 381.73 42.95 382.38 44.4 382.4 C45.85 382.42 47.42 381.7 48.6 381.7 C49.78 381.7 50.65 381.97 51.5 382.4 C52.35 382.83 53.07 383.45 53.7 384.3 C54.33 385.15 54.87 386.28 55.3 387.5 C55.73 388.72 56.07 390.23 56.3 391.6 C56.53 392.97 56.62 394.52 56.7 395.7 C56.78 396.88 56.74 398.2 56.75 398.7 L36.9 398.7 Z" fill="#84FF80" stroke="#000" stroke-opacity="0.4" stroke-width="0.4"/>
<path d="M36.9 384.4 C37.4 384.4 38.88 384.35 39.9 384.4 C40.92 384.45 42.35 384.48 43 384.7 C43.65 384.92 43.57 385.4 43.8 385.7 C44.03 386 44.2 386.5 44.4 386.5 C44.6 386.5 44.77 386 45 385.7 C45.23 385.4 45.2 384.9 45.8 384.7 C46.4 384.5 47.72 384.42 48.6 384.5 C49.48 384.58 50.35 384.78 51.1 385.2 C51.85 385.62 52.55 386.2 53.1 387 C53.65 387.8 54.03 389 54.4 390 C54.77 391 55.1 392.05 55.3 393 C55.5 393.95 55.54 394.75 55.6 395.7 C55.66 396.65 55.64 398.2 55.65 398.7 L36.9 398.7 Z" fill="#FFF200" stroke="#000" stroke-opacity="0.4" stroke-width="0.4"/>
<path d="M36.9 386.3 C37.4 386.3 38.85 386.25 39.9 386.3 C40.95 386.35 42.53 386.38 43.2 386.6 C43.87 386.82 43.7 387.3 43.9 387.6 C44.1 387.9 44.23 388.4 44.4 388.4 C44.57 388.4 44.7 387.9 44.9 387.6 C45.1 387.3 44.98 386.8 45.6 386.6 C46.22 386.4 47.77 386.33 48.6 386.4 C49.43 386.47 50 386.63 50.6 387 C51.2 387.37 51.73 387.93 52.2 388.6 C52.67 389.27 53.07 390.18 53.4 391 C53.73 391.82 54.03 392.72 54.2 393.5 C54.37 394.28 54.36 394.83 54.4 395.7 C54.44 396.57 54.44 398.2 54.45 398.7 L36.9 398.7 Z" fill="#FF8400" stroke="#000" stroke-opacity="0.4" stroke-width="0.4"/>
<path d="M36.9 386.9 C37.4 386.9 38.83 386.85 39.9 386.9 C40.97 386.95 42.63 386.98 43.3 387.2 C43.97 387.42 43.72 387.88 43.9 388.2 C44.08 388.52 44.23 389.1 44.4 389.1 C44.57 389.1 44.72 388.52 44.9 388.2 C45.08 387.88 44.88 387.4 45.5 387.2 C46.12 387 47.8 386.93 48.6 387 C49.4 387.07 49.77 387.23 50.3 387.6 C50.83 387.97 51.37 388.55 51.8 389.2 C52.23 389.85 52.6 390.7 52.9 391.5 C53.2 392.3 53.47 393.3 53.6 394 C53.73 394.7 53.68 394.92 53.7 395.7 C53.73 396.48 53.74 398.2 53.75 398.7 L36.9 398.7 Z" fill="#FF1200" stroke="#000" stroke-opacity="0.4" stroke-width="0.4"/>
<path d="M36.9 391.5 C37.52 390.33 39.77 391.55 40.6 391.7 C41.43 391.85 41.6 392.08 41.9 392.4 C42.2 392.72 42.4 393.17 42.4 393.6 C42.4 394.03 42.03 394.15 41.9 395 C41.77 395.85 42.43 398.08 41.6 398.7 C40.77 399.32 37.68 399.9 36.9 398.7 C36.12 397.5 36.28 392.67 36.9 391.5 Z" fill="#860000" stroke="#000" stroke-opacity="0.4" stroke-width="0.4"/>
<path d="M46.3 398.7 C45.52 398.03 46.1 395.57 46.2 394.7 C46.3 393.83 46.6 393.73 46.9 393.5 C47.2 393.27 47.73 393.48 48 393.3 C48.27 393.12 48.27 392.52 48.5 392.4 C48.73 392.28 49.17 392.4 49.4 392.6 C49.63 392.8 49.67 393.32 49.9 393.6 C50.13 393.88 50.62 394.02 50.8 394.3 C50.98 394.58 50.98 394.57 51 395.3 C51.02 396.03 51.68 398.13 50.9 398.7 C50.12 399.27 47.08 399.37 46.3 398.7 Z" fill="#860000" stroke="#000" stroke-opacity="0.4" stroke-width="0.4"/>
</g>
<text x="125.1" y="388.1" text-anchor="end" font-size="12.1" font-weight="bold" fill="#fff">i, iii, iv</text>
<text x="51.4" y="6.75" font-size="8.9" font-weight="bold" fill="#000" textLength="67.9" lengthAdjust="spacingAndGlyphs">Component 1</text>
<text x="147.8" y="6.75" font-size="8.9" font-weight="bold" fill="#000" textLength="68.8" lengthAdjust="spacingAndGlyphs">Component 2</text>
<text x="242.8" y="6.75" font-size="8.9" font-weight="bold" fill="#000" textLength="68.8" lengthAdjust="spacingAndGlyphs">Component 3</text>
<text x="0.5" y="12.1" font-size="11" text-anchor="start" font-weight="bold" fill="#000">a</text>
<text x="0.5" y="109.7" font-size="11.2" text-anchor="start" font-weight="bold" fill="#000">b</text>
<text x="0.5" y="209.7" font-size="11.2" text-anchor="start" font-weight="bold" fill="#000">c</text>
<text x="0.6" y="307.3" font-size="11.2" text-anchor="start" font-weight="bold" fill="#000">d</text>
<text x="39.6" y="18.1" font-size="9.3" text-anchor="end" fill="#2c2c2c" textLength="14.4" lengthAdjust="spacingAndGlyphs">550</text>
<text x="39.6" y="33.72" font-size="9.3" text-anchor="end" fill="#2c2c2c" textLength="14.4" lengthAdjust="spacingAndGlyphs">500</text>
<text x="39.6" y="49.34" font-size="9.3" text-anchor="end" fill="#2c2c2c" textLength="14.4" lengthAdjust="spacingAndGlyphs">450</text>
<text x="39.6" y="64.96" font-size="9.3" text-anchor="end" fill="#2c2c2c" textLength="14.4" lengthAdjust="spacingAndGlyphs">400</text>
<text x="39.6" y="80.58" font-size="9.3" text-anchor="end" fill="#2c2c2c" textLength="14.4" lengthAdjust="spacingAndGlyphs">350</text>
<text x="39.6" y="96.2" font-size="9.3" text-anchor="end" fill="#2c2c2c" textLength="14.4" lengthAdjust="spacingAndGlyphs">300</text>
<text transform="translate(20.3 51.4) rotate(-90)" font-size="11.35" text-anchor="middle" fill="#1c1c1c">Emission (nm)</text>
<text x="39.3" y="118.3" font-size="9.3" text-anchor="end" fill="#2c2c2c" textLength="14.4" lengthAdjust="spacingAndGlyphs">550</text>
<text x="39.3" y="133.82" font-size="9.3" text-anchor="end" fill="#2c2c2c" textLength="14.4" lengthAdjust="spacingAndGlyphs">500</text>
<text x="39.3" y="149.34" font-size="9.3" text-anchor="end" fill="#2c2c2c" textLength="14.4" lengthAdjust="spacingAndGlyphs">450</text>
<text x="39.3" y="164.86" font-size="9.3" text-anchor="end" fill="#2c2c2c" textLength="14.4" lengthAdjust="spacingAndGlyphs">400</text>
<text x="39.3" y="180.38" font-size="9.3" text-anchor="end" fill="#2c2c2c" textLength="14.4" lengthAdjust="spacingAndGlyphs">350</text>
<text x="39.3" y="195.9" font-size="9.3" text-anchor="end" fill="#2c2c2c" textLength="14.4" lengthAdjust="spacingAndGlyphs">300</text>
<text transform="translate(20.3 148.4) rotate(-90)" font-size="11.35" text-anchor="middle" fill="#1c1c1c">Emission (nm)</text>
<text x="39.1" y="216.9" font-size="9.3" text-anchor="end" fill="#2c2c2c" textLength="14.4" lengthAdjust="spacingAndGlyphs">550</text>
<text x="39.1" y="232.43" font-size="9.3" text-anchor="end" fill="#2c2c2c" textLength="14.4" lengthAdjust="spacingAndGlyphs">500</text>
<text x="39.1" y="247.96" font-size="9.3" text-anchor="end" fill="#2c2c2c" textLength="14.4" lengthAdjust="spacingAndGlyphs">450</text>
<text x="39.1" y="263.49" font-size="9.3" text-anchor="end" fill="#2c2c2c" textLength="14.4" lengthAdjust="spacingAndGlyphs">400</text>
<text x="39.1" y="279.02" font-size="9.3" text-anchor="end" fill="#2c2c2c" textLength="14.4" lengthAdjust="spacingAndGlyphs">350</text>
<text x="39.1" y="294.55" font-size="9.3" text-anchor="end" fill="#2c2c2c" textLength="14.4" lengthAdjust="spacingAndGlyphs">300</text>
<text transform="translate(20.3 248.3) rotate(-90)" font-size="11.35" text-anchor="middle" fill="#1c1c1c">Emission (nm)</text>
<text x="38.8" y="315.8" font-size="9.3" text-anchor="end" fill="#2c2c2c" textLength="14.4" lengthAdjust="spacingAndGlyphs">550</text>
<text x="38.8" y="331.52" font-size="9.3" text-anchor="end" fill="#2c2c2c" textLength="14.4" lengthAdjust="spacingAndGlyphs">500</text>
<text x="38.8" y="347.24" font-size="9.3" text-anchor="end" fill="#2c2c2c" textLength="14.4" lengthAdjust="spacingAndGlyphs">450</text>
<text x="38.8" y="362.96" font-size="9.3" text-anchor="end" fill="#2c2c2c" textLength="14.4" lengthAdjust="spacingAndGlyphs">400</text>
<text x="38.8" y="378.68" font-size="9.3" text-anchor="end" fill="#2c2c2c" textLength="14.4" lengthAdjust="spacingAndGlyphs">350</text>
<text x="38.8" y="394.4" font-size="9.3" text-anchor="end" fill="#2c2c2c" textLength="14.4" lengthAdjust="spacingAndGlyphs">300</text>
<text transform="translate(20.3 346) rotate(-90)" font-size="11.35" text-anchor="middle" fill="#1c1c1c">Emission (nm)</text>
<text x="45.6" y="105" font-size="9.3" text-anchor="middle" fill="#2c2c2c" textLength="14.4" lengthAdjust="spacingAndGlyphs">250</text>
<text x="65.15" y="105" font-size="9.3" text-anchor="middle" fill="#2c2c2c" textLength="14.4" lengthAdjust="spacingAndGlyphs">300</text>
<text x="84.7" y="105" font-size="9.3" text-anchor="middle" fill="#2c2c2c" textLength="14.4" lengthAdjust="spacingAndGlyphs">350</text>
<text x="104.25" y="105" font-size="9.3" text-anchor="middle" fill="#2c2c2c" textLength="14.4" lengthAdjust="spacingAndGlyphs">400</text>
<text x="123.8" y="105" font-size="9.3" text-anchor="middle" fill="#2c2c2c" textLength="14.4" lengthAdjust="spacingAndGlyphs">450</text>
<text x="142" y="105" font-size="9.3" text-anchor="middle" fill="#2c2c2c" textLength="14.4" lengthAdjust="spacingAndGlyphs">250</text>
<text x="161.6" y="105" font-size="9.3" text-anchor="middle" fill="#2c2c2c" textLength="14.4" lengthAdjust="spacingAndGlyphs">300</text>
<text x="181.2" y="105" font-size="9.3" text-anchor="middle" fill="#2c2c2c" textLength="14.4" lengthAdjust="spacingAndGlyphs">350</text>
<text x="200.8" y="105" font-size="9.3" text-anchor="middle" fill="#2c2c2c" textLength="14.4" lengthAdjust="spacingAndGlyphs">400</text>
<text x="220.4" y="105" font-size="9.3" text-anchor="middle" fill="#2c2c2c" textLength="14.4" lengthAdjust="spacingAndGlyphs">450</text>
<text x="238.5" y="105" font-size="9.3" text-anchor="middle" fill="#2c2c2c" textLength="14.4" lengthAdjust="spacingAndGlyphs">250</text>
<text x="258.05" y="105" font-size="9.3" text-anchor="middle" fill="#2c2c2c" textLength="14.4" lengthAdjust="spacingAndGlyphs">300</text>
<text x="277.6" y="105" font-size="9.3" text-anchor="middle" fill="#2c2c2c" textLength="14.4" lengthAdjust="spacingAndGlyphs">350</text>
<text x="297.15" y="105" font-size="9.3" text-anchor="middle" fill="#2c2c2c" textLength="14.4" lengthAdjust="spacingAndGlyphs">400</text>
<text x="316.7" y="105" font-size="9.3" text-anchor="middle" fill="#2c2c2c" textLength="14.4" lengthAdjust="spacingAndGlyphs">450</text>
<text x="45.6" y="205.7" font-size="9.3" text-anchor="middle" fill="#2c2c2c" textLength="14.4" lengthAdjust="spacingAndGlyphs">250</text>
<text x="65.15" y="205.7" font-size="9.3" text-anchor="middle" fill="#2c2c2c" textLength="14.4" lengthAdjust="spacingAndGlyphs">300</text>
<text x="84.7" y="205.7" font-size="9.3" text-anchor="middle" fill="#2c2c2c" textLength="14.4" lengthAdjust="spacingAndGlyphs">350</text>
<text x="104.25" y="205.7" font-size="9.3" text-anchor="middle" fill="#2c2c2c" textLength="14.4" lengthAdjust="spacingAndGlyphs">400</text>
<text x="123.8" y="205.7" font-size="9.3" text-anchor="middle" fill="#2c2c2c" textLength="14.4" lengthAdjust="spacingAndGlyphs">450</text>
<text x="142" y="205.7" font-size="9.3" text-anchor="middle" fill="#2c2c2c" textLength="14.4" lengthAdjust="spacingAndGlyphs">250</text>
<text x="161.6" y="205.7" font-size="9.3" text-anchor="middle" fill="#2c2c2c" textLength="14.4" lengthAdjust="spacingAndGlyphs">300</text>
<text x="181.2" y="205.7" font-size="9.3" text-anchor="middle" fill="#2c2c2c" textLength="14.4" lengthAdjust="spacingAndGlyphs">350</text>
<text x="200.8" y="205.7" font-size="9.3" text-anchor="middle" fill="#2c2c2c" textLength="14.4" lengthAdjust="spacingAndGlyphs">400</text>
<text x="220.4" y="205.7" font-size="9.3" text-anchor="middle" fill="#2c2c2c" textLength="14.4" lengthAdjust="spacingAndGlyphs">450</text>
<text x="238.5" y="205.7" font-size="9.3" text-anchor="middle" fill="#2c2c2c" textLength="14.4" lengthAdjust="spacingAndGlyphs">250</text>
<text x="258.05" y="205.7" font-size="9.3" text-anchor="middle" fill="#2c2c2c" textLength="14.4" lengthAdjust="spacingAndGlyphs">300</text>
<text x="277.6" y="205.7" font-size="9.3" text-anchor="middle" fill="#2c2c2c" textLength="14.4" lengthAdjust="spacingAndGlyphs">350</text>
<text x="297.15" y="205.7" font-size="9.3" text-anchor="middle" fill="#2c2c2c" textLength="14.4" lengthAdjust="spacingAndGlyphs">400</text>
<text x="316.7" y="205.7" font-size="9.3" text-anchor="middle" fill="#2c2c2c" textLength="14.4" lengthAdjust="spacingAndGlyphs">450</text>
<text x="45.6" y="302.3" font-size="9.3" text-anchor="middle" fill="#2c2c2c" textLength="14.4" lengthAdjust="spacingAndGlyphs">250</text>
<text x="65.15" y="302.3" font-size="9.3" text-anchor="middle" fill="#2c2c2c" textLength="14.4" lengthAdjust="spacingAndGlyphs">300</text>
<text x="84.7" y="302.3" font-size="9.3" text-anchor="middle" fill="#2c2c2c" textLength="14.4" lengthAdjust="spacingAndGlyphs">350</text>
<text x="104.25" y="302.3" font-size="9.3" text-anchor="middle" fill="#2c2c2c" textLength="14.4" lengthAdjust="spacingAndGlyphs">400</text>
<text x="123.8" y="302.3" font-size="9.3" text-anchor="middle" fill="#2c2c2c" textLength="14.4" lengthAdjust="spacingAndGlyphs">450</text>
<text x="45.6" y="404.4" font-size="9.3" text-anchor="middle" fill="#2c2c2c" textLength="14.4" lengthAdjust="spacingAndGlyphs">250</text>
<text x="65.15" y="404.4" font-size="9.3" text-anchor="middle" fill="#2c2c2c" textLength="14.4" lengthAdjust="spacingAndGlyphs">300</text>
<text x="84.7" y="404.4" font-size="9.3" text-anchor="middle" fill="#2c2c2c" textLength="14.4" lengthAdjust="spacingAndGlyphs">350</text>
<text x="104.25" y="404.4" font-size="9.3" text-anchor="middle" fill="#2c2c2c" textLength="14.4" lengthAdjust="spacingAndGlyphs">400</text>
<text x="123.8" y="404.4" font-size="9.3" text-anchor="middle" fill="#2c2c2c" textLength="14.4" lengthAdjust="spacingAndGlyphs">450</text>
<text x="143.2" y="219.8" font-size="11.4" text-anchor="start" fill="#1c1c1c">Excitation (nm)</text>
<text x="238.4" y="219.8" font-size="11.55" text-anchor="start" fill="#1c1c1c">Excitation (nm)</text>
<text x="46.8" y="418.3" font-size="11.4" text-anchor="start" fill="#1c1c1c">Excitation (nm)</text>
<text transform="translate(328.2 32.9) rotate(90)" font-size="11.2" fill="#2c2c2c" textLength="36" lengthAdjust="spacingAndGlyphs">ACT-10</text>
<text transform="translate(328.2 139.4) rotate(90)" font-size="11.2" fill="#2c2c2c" textLength="17.6" lengthAdjust="spacingAndGlyphs">WD</text>
<text transform="translate(133.3 235) rotate(90)" font-size="11.2" fill="#2c2c2c" textLength="30.6" lengthAdjust="spacingAndGlyphs">GISP2</text>
<text transform="translate(134 337.9) rotate(90)" font-size="11.2" fill="#2c2c2c" textLength="36.9" lengthAdjust="spacingAndGlyphs">Agassiz</text>
<text x="164.8" y="241.6" font-size="10.7" font-weight="bold" fill="#6C26A4" textLength="175" lengthAdjust="spacingAndGlyphs">More bioreactive: lower molecular</text>
<text x="175.6" y="254.3" font-size="10.7" font-weight="bold" fill="#6C26A4" textLength="164.6" lengthAdjust="spacingAndGlyphs">weight and low aromatic nature,</text>
<text x="245.6" y="266.8" font-size="10.7" font-weight="bold" fill="#6C26A4" textLength="92.7" lengthAdjust="spacingAndGlyphs">less photoreactive</text>
<text x="146.8" y="362.9" font-size="10.7" font-weight="bold" fill="#0d6a0d" textLength="194.4" lengthAdjust="spacingAndGlyphs">More photoreactive: higher molecular</text>
<text x="170.9" y="375.7" font-size="10.7" font-weight="bold" fill="#0d6a0d" textLength="169.3" lengthAdjust="spacingAndGlyphs">weight and high aromatic nature,</text>
<text x="260.2" y="388.2" font-size="10.7" font-weight="bold" fill="#0d6a0d" textLength="79.8" lengthAdjust="spacingAndGlyphs">less bioreactive</text>
<text x="156.4" y="281.4" font-size="8.7" text-anchor="start" font-weight="bold" fill="#222">Label</text>
<text x="332.9" y="281.4" font-size="8.7" text-anchor="end" font-weight="bold" fill="#222">Description</text>
<rect x="156.4" y="282.9" width="176.6" height="1" fill="#333"/>
<text x="156.4" y="293.1" font-size="8.75" text-anchor="start" fill="#2c2c2c">i</text>
<text x="332" y="293.1" font-size="8.75" text-anchor="end" fill="#2c2c2c">monolignol-like</text>
<text x="156.4" y="303.4" font-size="8.75" text-anchor="start" fill="#2c2c2c">ii</text>
<text x="332" y="303.4" font-size="8.75" text-anchor="end" fill="#2c2c2c">tyrosine- &amp; tannin-like</text>
<text x="156.4" y="313.7" font-size="8.75" text-anchor="start" fill="#2c2c2c">iii</text>
<text x="332" y="313.7" font-size="8.75" text-anchor="end" fill="#2c2c2c">tyrosine-like</text>
<text x="156.4" y="324" font-size="8.75" text-anchor="start" fill="#2c2c2c">iv</text>
<text x="332" y="324" font-size="8.75" text-anchor="end" fill="#2c2c2c">simple phenol / amino acid- &amp; tannin-like</text>
<text x="156.4" y="334.3" font-size="8.75" text-anchor="start" fill="#2c2c2c">v</text>
<text x="332" y="334.3" font-size="8.75" text-anchor="end" fill="#2c2c2c">plant/soil decomposition intermediates</text>
<text x="156.4" y="344.6" font-size="8.75" text-anchor="start" fill="#2c2c2c">vi</text>
<text x="332" y="344.6" font-size="8.75" text-anchor="end" fill="#2c2c2c">mid- to large-size humic-like</text>
<rect x="156.4" y="345.8" width="176.6" height="0.9" fill="#444"/>
<path d="M332.2 285.4 H334.4 V337.0 H332.2" fill="none" stroke="#6C26A4" stroke-width="1.3"/>
<path d="M334.6 310.7 H346.0 V270" fill="none" stroke="#6C26A4" stroke-width="3.5"/>
<path d="M346.1 266.0 L350 271.6 H342.3 Z" fill="#6C26A4"/>
<path d="M334.9 342.2 H346.15 V362" fill="none" stroke="#0d6a0d" stroke-width="3.5"/>
<path d="M346.15 366 L342.3 361.2 H350 Z" fill="#0d6a0d"/>
</g>
</svg>
</body></html>
